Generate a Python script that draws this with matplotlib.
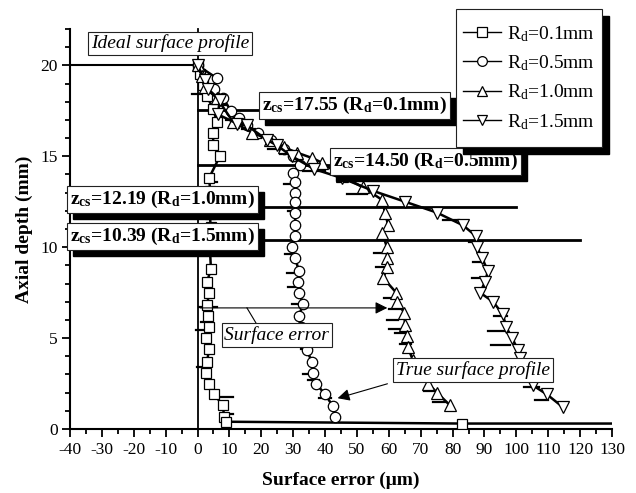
import matplotlib
matplotlib.use("Agg")
import matplotlib.pyplot as plt
from matplotlib.patches import Rectangle
from matplotlib.transforms import IdentityTransform
from matplotlib.ticker import MultipleLocator

plt.rcParams['font.family'] = ['Liberation Serif', 'DejaVu Serif']
plt.rcParams['mathtext.fontset'] = 'custom'
plt.rcParams['mathtext.rm'] = 'Liberation Serif'
plt.rcParams['mathtext.it'] = 'Liberation Serif:italic'
plt.rcParams['mathtext.bf'] = 'Liberation Serif:bold'
plt.rcParams['axes.unicode_minus'] = False

# ---------------- data ----------------
labels = ['R$_\\mathrm{d}$=0.1mm', 'R$_\\mathrm{d}$=0.5mm', 'R$_\\mathrm{d}$=1.0mm', 'R$_\\mathrm{d}$=1.5mm']

x_01 = [0, 0.8, 1.8, 3.0, 4.9, 6.1, 4.9, 4.9, 7.0, 3.6, 4.0, 4.2, 3.9, 4.1, 3.8, 3.9, 4.2, 3.0, 3.6, 3.0, 3.3, 3.6, 2.7, 3.6, 3.0, 2.7, 3.6, 5.2, 8.0, 8.3, 9.0, 83.0, 130.0]
y_01 = [20, 19.5, 18.9, 18.3, 17.6, 16.9, 16.3, 15.6, 15.0, 13.8, 13.1, 12.5, 11.8, 11.1, 10.5, 9.9, 8.8, 8.1, 7.5, 6.8, 6.2, 5.6, 5.0, 4.4, 3.7, 3.1, 2.5, 1.9, 1.3, 0.65, 0.4, 0.3, 0.3]

x_05 = [0, 6.0, 5.2, 8.0, 10.5, 13.0, 15.5, 19.0, 23.0, 27.0, 30.0, 32.0, 30.0, 30.6, 30.6, 30.6, 30.6, 30.6, 30.6, 29.6, 30.6, 31.8, 31.5, 31.8, 33.1, 31.8, 32.5, 33.0, 34.2, 35.9, 36.1, 37.2, 40.0, 42.5, 43.1]
y_05 = [20, 19.3, 18.7, 18.2, 17.5, 17.1, 16.7, 16.3, 15.9, 15.4, 15.0, 14.5, 14.1, 13.6, 13.0, 12.5, 11.9, 11.2, 10.6, 10.0, 9.4, 8.7, 8.1, 7.5, 6.9, 6.2, 5.6, 5.0, 4.35, 3.7, 3.1, 2.5, 1.9, 1.25, 0.65]

x_10 = [0, 1.4, 2.3, 6.1, 11.1, 17.1, 22.7, 27.0, 31.2, 36.0, 39.0, 45.3, 51.9, 57.9, 58.8, 59.8, 57.9, 59.4, 59.4, 59.4, 58.3, 62.3, 62.6, 64.8, 65.1, 65.7, 66.0, 67.5, 69.5, 72.3, 75.1, 79.2]
y_10 = [20, 19.4, 18.8, 18.2, 16.9, 16.3, 15.9, 15.5, 15.2, 14.9, 14.65, 13.9, 13.3, 12.6, 11.9, 11.2, 10.8, 10.0, 9.4, 8.9, 8.3, 7.5, 7.0, 6.4, 5.7, 5.1, 4.5, 3.8, 3.2, 2.5, 2.0, 1.3]

x_15 = [0, 2.3, 3.3, 7.0, 6.4, 12.4, 15.5, 21.8, 24.9, 29.6, 36.5, 45.3, 55.0, 65.1, 75.1, 83.3, 87.4, 87.7, 89.2, 91.1, 90.2, 88.6, 92.7, 95.8, 96.8, 98.7, 100.5, 101.2, 103.0, 105.2, 109.6, 114.6]
y_15 = [20, 19.2, 18.7, 18.1, 17.3, 16.8, 16.7, 15.9, 15.6, 15.0, 14.3, 13.8, 13.1, 12.5, 11.9, 11.2, 10.6, 10.0, 9.4, 8.7, 8.1, 7.5, 7.0, 6.3, 5.6, 5.0, 4.35, 3.9, 3.2, 2.4, 1.9, 1.2]

# measured noise (horizontal spikes): y, x-start, x-end
spk_y = [19.7, 18.45, 13.6, 6.7, 5.9, 5.45, 3.4, 1.75, 0.8, 9.6, 8.6, 3.0, 1.7, 13.5, 12.0, 7.8, 6.9, 5.2, 4.4, 2.7, 17.0, 16.0, 15.4, 9.7, 8.9, 7.2, 6.6, 6.0, 5.5, 5.3, 4.7, 2.1, 1.5, 10.3, 9.2, 8.3, 6.2, 5.4, 4.6, 2.3, 1.6, 17.8, 16.5, 15.1, 14.2, 12.9, 11.5]
spk_x0 = [-1.0, -1.7, 3.0, 0.5, 1.0, -0.5, -0.3, 7.0, 8.5, 27.5, 28.0, 33.0, 38.0, 27.0, 28.5, 28.5, 29.5, 30.0, 32.5, 34.5, 9.0, 16.0, 22.0, 55.5, 56.0, 58.5, 60.0, 59.5, 60.0, 62.0, 63.5, 71.0, 74.0, 85.0, 86.5, 86.0, 93.0, 91.0, 92.0, 102.5, 106.0, 5.0, 14.0, 26.0, 33.0, 47.0, 77.0]
spk_x1 = [1.5, 3.0, 6.0, 6.0, 3.0, 3.0, 2.0, 11.0, 11.0, 31.0, 32.0, 37.0, 42.0, 31.0, 32.0, 32.0, 33.0, 33.5, 36.0, 38.0, 13.0, 20.0, 26.0, 60.0, 60.0, 62.0, 64.0, 63.0, 64.5, 66.0, 67.0, 75.0, 78.0, 89.0, 90.0, 91.0, 97.0, 97.0, 98.0, 107.0, 110.0, 9.0, 18.0, 31.0, 40.0, 53.0, 82.0]

zcs_values = [17.55, 14.50, 12.19, 10.39]
zcs_labels = ['0.1', '0.5', '1.0', '1.5']
zcs_line_end = [40.0, 60.0, 100.0, 120.0]
zcs_box_xy = [(49.2, 17.8), (71.4, 14.7), (-11.0, 12.6), (-11.0, 10.6)]

# ---------------- figure ----------------
W, H = 636, 493
fig = plt.figure(figsize=(W / 100, H / 100), dpi=100)
ax = fig.add_axes([70 / W, 1 - 429 / H, (612 - 70) / W, (429 - 29) / H])
ax.set_xlim(-40, 130)
ax.set_ylim(0, 22)

for s in ['top', 'right']:
    ax.spines[s].set_visible(False)
for s in ['left', 'bottom']:
    ax.spines[s].set_linewidth(1.5)

ax.xaxis.set_major_locator(MultipleLocator(10))
ax.xaxis.set_minor_locator(MultipleLocator(5))
ax.yaxis.set_major_locator(MultipleLocator(5))
ax.yaxis.set_minor_locator(MultipleLocator(1))
ax.tick_params(which='major', direction='out', length=6, width=1.3, labelsize=12.5, pad=3)
ax.tick_params(which='minor', direction='out', length=3.5, width=1.3)
ax.set_xlabel('Surface error (\u03bcm)', fontsize=14, fontweight='bold', labelpad=10)
ax.set_ylabel('Axial depth (mm)', fontsize=14, fontweight='bold', labelpad=5)

# ideal surface profile lines
ax.plot([-40, 0], [20, 20], color='k', lw=1.5, zorder=3)
ax.plot([0, 0], [0, 22], color='k', lw=1.3, zorder=3, clip_on=False)

# zcs lines
for z, xe in zip(zcs_values, zcs_line_end):
    ax.plot([0, xe], [z, z], color='k', lw=2.0, zorder=3)

# spikes
for yv, a, b in zip(spk_y, spk_x0, spk_x1):
    ax.plot([a, b], [yv, yv], color='k', lw=1.6, zorder=4)

series = [(x_01, y_01, 's'), (x_05, y_05, 'o'), (x_10, y_10, '^'), (x_15, y_15, 'v')]
handles = []
for (xs, ys, m), lab in zip(series, labels):
    me = list(range(len(xs) - 1)) if m == 's' else None
    ms = 8.5 if m in ('^', 'v') else 7.5
    h, = ax.plot(xs, ys, color='k', lw=1.8, marker=m, markersize=ms,
                 markerfacecolor='white', markeredgecolor='k', markeredgewidth=0.9,
                 markevery=me, zorder=5, label=lab)
    handles.append(h)

# text boxes
shadow_texts = []
def box(x, y, s, shadow=False, **kw):
    t = ax.text(x, y, s, ha='center', va='center', color='k', zorder=9,
                bbox=dict(boxstyle='square,pad=0.15', fc='white', ec='#222222', lw=0.8), **kw)
    if shadow:
        shadow_texts.append(t)
    return t

box(-8.6, 21.2, 'Ideal surface profile', fontsize=14, style='italic')
for (bx, by), z, r in zip(zcs_box_xy, zcs_values, zcs_labels):
    s = 'z$_{\\mathbf{cs}}$=%.2f (R$_{\\mathbf{d}}$=%smm)' % (z, r)
    box(bx, by, s, shadow=True, fontsize=14, fontweight='bold')
box(24.9, 5.18, 'Surface error', fontsize=14, style='italic')
box(86.4, 3.25, 'True surface profile', fontsize=14, style='italic')

# arrows
ax.annotate('', xy=(60.4, 6.66), xytext=(0, 6.66),
            arrowprops=dict(arrowstyle='-|>', color='k', lw=0.8, mutation_scale=18), zorder=6)
ax.plot([15.5, 18.3], [6.66, 5.84], color='k', lw=0.8, zorder=6)
ax.annotate('', xy=(43.1, 1.65), xytext=(60.4, 2.53),
            arrowprops=dict(arrowstyle='-|>', color='k', lw=0.8, mutation_scale=18), zorder=6)

# legend (frame drawn manually for custom padding)
leg = fig.legend(handles=handles, loc='upper right',
                 bbox_to_anchor=(602 / W, 1 - 17 / H), fontsize=14,
                 frameon=False, handlelength=2.0, handletextpad=0.3, labelspacing=0.5,
                 borderpad=0.35, borderaxespad=0)
leg.set_zorder(20)
for lh in leg.legend_handles:
    lh.set_linewidth(1.0)
    lh.set_markersize(7)

# shadows for zcs boxes + legend frame
fig.canvas.draw()
renderer = fig.canvas.get_renderer()
for t in shadow_texts:
    bb = t.get_bbox_patch().get_window_extent(renderer)
    r = Rectangle((bb.x0 + 6, bb.y0 - 6), bb.width, bb.height,
                  facecolor='k', edgecolor='k', zorder=8, clip_on=False)
    r.set_transform(IdentityTransform())
    ax.add_artist(r)

lb = leg.get_window_extent(renderer)
lx0, ly0, lw_, lh_ = lb.x0, lb.y0 - 8, lb.width, lb.height + 16
shadow_leg = Rectangle((lx0 + 7, ly0 - 7), lw_, lh_, facecolor='k', edgecolor='k',
                       transform=IdentityTransform(), zorder=18)
frame_leg = Rectangle((lx0, ly0), lw_, lh_, facecolor='white', edgecolor='#222222',
                      linewidth=0.8, transform=IdentityTransform(), zorder=19)
fig.add_artist(shadow_leg)
fig.add_artist(frame_leg)

fig.savefig('out.png', dpi=100)
